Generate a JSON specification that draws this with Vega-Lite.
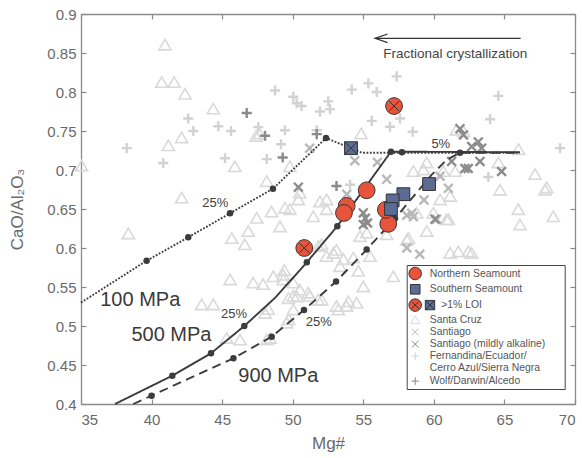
{
  "$schema": "https://vega.github.io/schema/vega-lite/v6.json",
  "width": 494,
  "height": 390,
  "autosize": {"type": "none"},
  "padding": {"left": 81, "top": 14, "right": 7, "bottom": 54},
  "datasets": {
    "bg": [
      {"Mg":35.05,"CaO":0.705,"group":"Santa Cruz"},{"Mg":40.95,"CaO":0.860,"group":"Santa Cruz"},{"Mg":40.72,"CaO":0.812,"group":"Santa Cruz"},{"Mg":41.6,"CaO":0.812,"group":"Santa Cruz"},{"Mg":42.37,"CaO":0.797,"group":"Santa Cruz"},{"Mg":41.19,"CaO":0.731,"group":"Santa Cruz"},{"Mg":42.13,"CaO":0.741,"group":"Santa Cruz"},{"Mg":44.37,"CaO":0.778,"group":"Santa Cruz"},{"Mg":45.9,"CaO":0.704,"group":"Santa Cruz"},{"Mg":47.4,"CaO":0.743,"group":"Santa Cruz"},{"Mg":47.65,"CaO":0.746,"group":"Santa Cruz"},{"Mg":48.16,"CaO":0.685,"group":"Santa Cruz"},{"Mg":42.13,"CaO":0.664,"group":"Santa Cruz"},{"Mg":38.35,"CaO":0.618,"group":"Santa Cruz"},{"Mg":45.68,"CaO":0.612,"group":"Santa Cruz"},{"Mg":45.56,"CaO":0.559,"group":"Santa Cruz"},{"Mg":43.55,"CaO":0.527,"group":"Santa Cruz"},{"Mg":44.37,"CaO":0.527,"group":"Santa Cruz"},{"Mg":47.2,"CaO":0.555,"group":"Santa Cruz"},{"Mg":47.9,"CaO":0.553,"group":"Santa Cruz"},{"Mg":47.45,"CaO":0.638,"group":"Santa Cruz"},{"Mg":48.5,"CaO":0.646,"group":"Santa Cruz"},{"Mg":49.45,"CaO":0.651,"group":"Santa Cruz"},{"Mg":49.1,"CaO":0.627,"group":"Santa Cruz"},{"Mg":49.8,"CaO":0.704,"group":"Santa Cruz"},{"Mg":48.27,"CaO":0.521,"group":"Santa Cruz"},{"Mg":45.32,"CaO":0.484,"group":"Santa Cruz"},{"Mg":46.27,"CaO":0.482,"group":"Santa Cruz"},{"Mg":48.16,"CaO":0.482,"group":"Santa Cruz"},{"Mg":49.7,"CaO":0.508,"group":"Santa Cruz"},{"Mg":49.33,"CaO":0.559,"group":"Santa Cruz"},{"Mg":49.33,"CaO":0.565,"group":"Santa Cruz"},{"Mg":49.4,"CaO":0.571,"group":"Santa Cruz"},{"Mg":50.04,"CaO":0.538,"group":"Santa Cruz"},{"Mg":48.63,"CaO":0.563,"group":"Santa Cruz"},{"Mg":50.04,"CaO":0.555,"group":"Santa Cruz"},{"Mg":51.46,"CaO":0.640,"group":"Santa Cruz"},{"Mg":51.93,"CaO":0.659,"group":"Santa Cruz"},{"Mg":52.4,"CaO":0.649,"group":"Santa Cruz"},{"Mg":50.4,"CaO":0.6615,"group":"Santa Cruz"},{"Mg":46.85,"CaO":0.621,"group":"Santa Cruz"},{"Mg":46.6,"CaO":0.604,"group":"Santa Cruz"},{"Mg":52.05,"CaO":0.604,"group":"Santa Cruz"},{"Mg":52.4,"CaO":0.589,"group":"Santa Cruz"},{"Mg":53.1,"CaO":0.597,"group":"Santa Cruz"},{"Mg":53.35,"CaO":0.576,"group":"Santa Cruz"},{"Mg":54.3,"CaO":0.587,"group":"Santa Cruz"},{"Mg":54.65,"CaO":0.570,"group":"Santa Cruz"},{"Mg":55.0,"CaO":0.550,"group":"Santa Cruz"},{"Mg":54.77,"CaO":0.6145,"group":"Santa Cruz"},{"Mg":55.24,"CaO":0.619,"group":"Santa Cruz"},{"Mg":55.48,"CaO":0.589,"group":"Santa Cruz"},{"Mg":57.13,"CaO":0.563,"group":"Santa Cruz"},{"Mg":58.08,"CaO":0.610,"group":"Santa Cruz"},{"Mg":56.66,"CaO":0.617,"group":"Santa Cruz"},{"Mg":51.82,"CaO":0.602,"group":"Santa Cruz"},{"Mg":52.88,"CaO":0.593,"group":"Santa Cruz"},{"Mg":53.6,"CaO":0.585,"group":"Santa Cruz"},{"Mg":54.53,"CaO":0.529,"group":"Santa Cruz"},{"Mg":53.23,"CaO":0.5205,"group":"Santa Cruz"},{"Mg":53.82,"CaO":0.525,"group":"Santa Cruz"},{"Mg":52.05,"CaO":0.533,"group":"Santa Cruz"},{"Mg":50.5,"CaO":0.546,"group":"Santa Cruz"},{"Mg":51.2,"CaO":0.538,"group":"Santa Cruz"},{"Mg":50.04,"CaO":0.5205,"group":"Santa Cruz"},{"Mg":49.57,"CaO":0.5035,"group":"Santa Cruz"},{"Mg":59.5,"CaO":0.621,"group":"Santa Cruz"},{"Mg":61.15,"CaO":0.593,"group":"Santa Cruz"},{"Mg":62.68,"CaO":0.593,"group":"Santa Cruz"},{"Mg":58.78,"CaO":0.6445,"group":"Santa Cruz"},{"Mg":61.03,"CaO":0.636,"group":"Santa Cruz"},{"Mg":65.98,"CaO":0.649,"group":"Santa Cruz"},{"Mg":66.1,"CaO":0.6295,"group":"Santa Cruz"},{"Mg":68.46,"CaO":0.640,"group":"Santa Cruz"},{"Mg":67.17,"CaO":0.694,"group":"Santa Cruz"},{"Mg":67.87,"CaO":0.674,"group":"Santa Cruz"},{"Mg":64.57,"CaO":0.709,"group":"Santa Cruz"},{"Mg":64.69,"CaO":0.674,"group":"Santa Cruz"},{"Mg":58.55,"CaO":0.698,"group":"Santa Cruz"},{"Mg":59.49,"CaO":0.709,"group":"Santa Cruz"},{"Mg":60.67,"CaO":0.698,"group":"Santa Cruz"},{"Mg":61.5,"CaO":0.698,"group":"Santa Cruz"},{"Mg":61.15,"CaO":0.666,"group":"Santa Cruz"},{"Mg":60.44,"CaO":0.6615,"group":"Santa Cruz"},{"Mg":59.96,"CaO":0.6445,"group":"Santa Cruz"},{"Mg":60.9,"CaO":0.636,"group":"Santa Cruz"},{"Mg":58.2,"CaO":0.612,"group":"Santa Cruz"},{"Mg":61.73,"CaO":0.595,"group":"Santa Cruz"},{"Mg":62.44,"CaO":0.595,"group":"Santa Cruz"},{"Mg":66.0,"CaO":0.726,"group":"Santa Cruz"},{"Mg":61.6,"CaO":0.751,"group":"Santa Cruz"},{"Mg":62.1,"CaO":0.749,"group":"Santa Cruz"},{"Mg":59.26,"CaO":0.700,"group":"Santa Cruz"},{"Mg":68.0,"CaO":0.677,"group":"Santa Cruz"},{"Mg":54.85,"CaO":0.746,"group":"Santa Cruz"},{"Mg":50.5,"CaO":0.670,"group":"Santa Cruz"},{"Mg":52.4,"CaO":0.6615,"group":"Santa Cruz"},{"Mg":49.8,"CaO":0.649,"group":"Santa Cruz"},{"Mg":49.7,"CaO":0.535,"group":"Santa Cruz"},{"Mg":50.3,"CaO":0.537,"group":"Santa Cruz"},{"Mg":51.8,"CaO":0.533,"group":"Santa Cruz"},{"Mg":53.1,"CaO":0.525,"group":"Santa Cruz"},{"Mg":53.94,"CaO":0.531,"group":"Santa Cruz"},{"Mg":51.1,"CaO":0.542,"group":"Santa Cruz"},{"Mg":48.4,"CaO":0.484,"group":"Santa Cruz"},{"Mg":48.04,"CaO":0.516,"group":"Santa Cruz"},
      {"Mg":51.2,"CaO":0.728,"group":"Santiago"},{"Mg":54.4,"CaO":0.712,"group":"Santiago"},{"Mg":56.0,"CaO":0.710,"group":"Santiago"},{"Mg":56.66,"CaO":0.688,"group":"Santiago"},{"Mg":53.83,"CaO":0.669,"group":"Santiago"},{"Mg":58.08,"CaO":0.642,"group":"Santiago"},{"Mg":58.55,"CaO":0.640,"group":"Santiago"},{"Mg":58.08,"CaO":0.600,"group":"Santiago"},{"Mg":59.0,"CaO":0.592,"group":"Santiago"},{"Mg":59.3,"CaO":0.6615,"group":"Santiago"},{"Mg":60.44,"CaO":0.692,"group":"Santiago"},{"Mg":61.03,"CaO":0.6765,"group":"Santiago"},{"Mg":58.43,"CaO":0.6445,"group":"Santiago"},{"Mg":60.2,"CaO":0.637,"group":"Santiago"},
      {"Mg":50.4,"CaO":0.678,"group":"Santiago (mildly alkaline)"},{"Mg":55.0,"CaO":0.645,"group":"Santiago (mildly alkaline)"},{"Mg":55.3,"CaO":0.632,"group":"Santiago (mildly alkaline)"},{"Mg":55.0,"CaO":0.630,"group":"Santiago (mildly alkaline)"},{"Mg":55.15,"CaO":0.638,"group":"Santiago (mildly alkaline)"},{"Mg":61.85,"CaO":0.753,"group":"Santiago (mildly alkaline)"},{"Mg":62.1,"CaO":0.745,"group":"Santiago (mildly alkaline)"},{"Mg":63.15,"CaO":0.736,"group":"Santiago (mildly alkaline)"},{"Mg":63.39,"CaO":0.728,"group":"Santiago (mildly alkaline)"},{"Mg":62.68,"CaO":0.730,"group":"Santiago (mildly alkaline)"},{"Mg":61.26,"CaO":0.711,"group":"Santiago (mildly alkaline)"},{"Mg":63.27,"CaO":0.711,"group":"Santiago (mildly alkaline)"},{"Mg":62.44,"CaO":0.702,"group":"Santiago (mildly alkaline)"},{"Mg":62.2,"CaO":0.702,"group":"Santiago (mildly alkaline)"},{"Mg":64.8,"CaO":0.698,"group":"Santiago (mildly alkaline)"},{"Mg":60.08,"CaO":0.637,"group":"Santiago (mildly alkaline)"},
      {"Mg":38.24,"CaO":0.728,"group":"Fernandina/Ecuador/Cerro Azul/Sierra Negra"},{"Mg":40.83,"CaO":0.709,"group":"Fernandina/Ecuador/Cerro Azul/Sierra Negra"},{"Mg":42.6,"CaO":0.766,"group":"Fernandina/Ecuador/Cerro Azul/Sierra Negra"},{"Mg":42.96,"CaO":0.750,"group":"Fernandina/Ecuador/Cerro Azul/Sierra Negra"},{"Mg":44.73,"CaO":0.756,"group":"Fernandina/Ecuador/Cerro Azul/Sierra Negra"},{"Mg":45.63,"CaO":0.750,"group":"Fernandina/Ecuador/Cerro Azul/Sierra Negra"},{"Mg":45.2,"CaO":0.715,"group":"Fernandina/Ecuador/Cerro Azul/Sierra Negra"},{"Mg":47.56,"CaO":0.755,"group":"Fernandina/Ecuador/Cerro Azul/Sierra Negra"},{"Mg":48.75,"CaO":0.802,"group":"Fernandina/Ecuador/Cerro Azul/Sierra Negra"},{"Mg":49.45,"CaO":0.751,"group":"Fernandina/Ecuador/Cerro Azul/Sierra Negra"},{"Mg":49.17,"CaO":0.733,"group":"Fernandina/Ecuador/Cerro Azul/Sierra Negra"},{"Mg":48.16,"CaO":0.714,"group":"Fernandina/Ecuador/Cerro Azul/Sierra Negra"},{"Mg":50.04,"CaO":0.794,"group":"Fernandina/Ecuador/Cerro Azul/Sierra Negra"},{"Mg":50.28,"CaO":0.7855,"group":"Fernandina/Ecuador/Cerro Azul/Sierra Negra"},{"Mg":50.63,"CaO":0.782,"group":"Fernandina/Ecuador/Cerro Azul/Sierra Negra"},{"Mg":51.93,"CaO":0.775,"group":"Fernandina/Ecuador/Cerro Azul/Sierra Negra"},{"Mg":52.52,"CaO":0.788,"group":"Fernandina/Ecuador/Cerro Azul/Sierra Negra"},{"Mg":52.64,"CaO":0.778,"group":"Fernandina/Ecuador/Cerro Azul/Sierra Negra"},{"Mg":54.18,"CaO":0.803,"group":"Fernandina/Ecuador/Cerro Azul/Sierra Negra"},{"Mg":55.36,"CaO":0.811,"group":"Fernandina/Ecuador/Cerro Azul/Sierra Negra"},{"Mg":55.95,"CaO":0.800,"group":"Fernandina/Ecuador/Cerro Azul/Sierra Negra"},{"Mg":57.37,"CaO":0.820,"group":"Fernandina/Ecuador/Cerro Azul/Sierra Negra"},{"Mg":55.6,"CaO":0.763,"group":"Fernandina/Ecuador/Cerro Azul/Sierra Negra"},{"Mg":56.89,"CaO":0.7555,"group":"Fernandina/Ecuador/Cerro Azul/Sierra Negra"},{"Mg":57.6,"CaO":0.766,"group":"Fernandina/Ecuador/Cerro Azul/Sierra Negra"},{"Mg":51.7,"CaO":0.751,"group":"Fernandina/Ecuador/Cerro Azul/Sierra Negra"},{"Mg":64.57,"CaO":0.795,"group":"Fernandina/Ecuador/Cerro Azul/Sierra Negra"},{"Mg":63.98,"CaO":0.765,"group":"Fernandina/Ecuador/Cerro Azul/Sierra Negra"},{"Mg":58.5,"CaO":0.749,"group":"Fernandina/Ecuador/Cerro Azul/Sierra Negra"},{"Mg":68.94,"CaO":0.728,"group":"Fernandina/Ecuador/Cerro Azul/Sierra Negra"},{"Mg":63.86,"CaO":0.691,"group":"Fernandina/Ecuador/Cerro Azul/Sierra Negra"},{"Mg":54.06,"CaO":0.681,"group":"Fernandina/Ecuador/Cerro Azul/Sierra Negra"},
      {"Mg":46.74,"CaO":0.773,"group":"Wolf/Darwin/Alcedo"},{"Mg":48.04,"CaO":0.744,"group":"Wolf/Darwin/Alcedo"},{"Mg":49.29,"CaO":0.716,"group":"Wolf/Darwin/Alcedo"},{"Mg":51.7,"CaO":0.746,"group":"Wolf/Darwin/Alcedo"},{"Mg":53.1,"CaO":0.6795,"group":"Wolf/Darwin/Alcedo"}
    ],
    "seamounts": [
      {"Mg":55.24,"CaO":0.674,"group":"Northern Seamount"},{"Mg":53.82,"CaO":0.654,"group":"Northern Seamount"},{"Mg":53.63,"CaO":0.645,"group":"Northern Seamount"},{"Mg":56.77,"CaO":0.631,"group":"Northern Seamount"},{"Mg":56.6,"CaO":0.649,"group":"Northern Seamount"},
      {"Mg":57.84,"CaO":0.669,"group":"Southern Seamount"},{"Mg":57.08,"CaO":0.661,"group":"Southern Seamount"},{"Mg":56.96,"CaO":0.650,"group":"Southern Seamount"},{"Mg":59.66,"CaO":0.682,"group":"Southern Seamount"}
    ],
    "loiNorth": [{"Mg":57.18,"CaO":0.782},{"Mg":50.82,"CaO":0.600}],
    "loiSouth": [{"Mg":54.13,"CaO":0.728}],
    "curves": [
      {"P":"100 MPa","i":0,"Mg":35.0,"CaO":0.530},{"P":"100 MPa","i":1,"Mg":39.65,"CaO":0.5837},{"P":"100 MPa","i":2,"Mg":42.6,"CaO":0.6137},{"P":"100 MPa","i":3,"Mg":45.56,"CaO":0.6445},{"P":"100 MPa","i":4,"Mg":48.6,"CaO":0.676},{"P":"100 MPa","i":5,"Mg":52.36,"CaO":0.741},{"P":"100 MPa","i":6,"Mg":54.9,"CaO":0.7222},{"P":"100 MPa","i":7,"Mg":66.1,"CaO":0.7222},
      {"P":"500 MPa","i":0,"Mg":37.41,"CaO":0.400},{"P":"500 MPa","i":1,"Mg":41.47,"CaO":0.4363},{"P":"500 MPa","i":2,"Mg":44.21,"CaO":0.465},{"P":"500 MPa","i":3,"Mg":46.57,"CaO":0.500},{"P":"500 MPa","i":4,"Mg":48.8,"CaO":0.537},{"P":"500 MPa","i":5,"Mg":51.0,"CaO":0.5817},{"P":"500 MPa","i":6,"Mg":53.16,"CaO":0.628},{"P":"500 MPa","i":7,"Mg":56.96,"CaO":0.7235},{"P":"500 MPa","i":8,"Mg":66.1,"CaO":0.7228},
      {"P":"900 MPa","i":0,"Mg":38.7,"CaO":0.400},{"P":"900 MPa","i":1,"Mg":40.0,"CaO":0.4107},{"P":"900 MPa","i":2,"Mg":45.8,"CaO":0.4586},{"P":"900 MPa","i":3,"Mg":48.51,"CaO":0.4863},{"P":"900 MPa","i":4,"Mg":50.8,"CaO":0.5205},{"P":"900 MPa","i":5,"Mg":53.07,"CaO":0.557},{"P":"900 MPa","i":6,"Mg":55.24,"CaO":0.598},{"P":"900 MPa","i":7,"Mg":57.25,"CaO":0.638},{"P":"900 MPa","i":8,"Mg":59.85,"CaO":0.694},{"P":"900 MPa","i":9,"Mg":60.9,"CaO":0.713},{"P":"900 MPa","i":10,"Mg":61.85,"CaO":0.7222},{"P":"900 MPa","i":11,"Mg":66.1,"CaO":0.7222}
    ],
    "dots": [
      {"Mg":39.65,"CaO":0.5837},{"Mg":42.6,"CaO":0.6137},{"Mg":45.56,"CaO":0.6445},{"Mg":48.6,"CaO":0.676},{"Mg":52.36,"CaO":0.741},
      {"Mg":41.47,"CaO":0.4363},{"Mg":44.21,"CaO":0.465},{"Mg":46.57,"CaO":0.500},{"Mg":51.0,"CaO":0.5817},{"Mg":53.16,"CaO":0.628},{"Mg":56.96,"CaO":0.7235},{"Mg":57.74,"CaO":0.7228},
      {"Mg":40.0,"CaO":0.4107},{"Mg":45.8,"CaO":0.4586},{"Mg":48.51,"CaO":0.4863},{"Mg":50.8,"CaO":0.5205},{"Mg":53.07,"CaO":0.557},{"Mg":55.24,"CaO":0.598},{"Mg":57.25,"CaO":0.638},{"Mg":61.85,"CaO":0.7222}
    ],
    "smallText": [{"Mg":44.52,"CaO":0.6573,"label":"25%"},{"Mg":45.84,"CaO":0.5158,"label":"25%"},{"Mg":51.85,"CaO":0.5055,"label":"25%"},{"Mg":60.49,"CaO":0.7333,"label":"5%"}],
    "bigText": [{"Mg":39.2,"CaO":0.5333,"label":"100 MPa"},{"Mg":41.41,"CaO":0.4889,"label":"500 MPa"},{"Mg":48.98,"CaO":0.4361,"label":"900 MPa"}],
    "note": [{"Mg":61.52,"CaO":0.849,"label":"Fractional crystallization"}],
    "arrow": [{"Mg":55.9,"CaO":0.8688},{"Mg":66.15,"CaO":0.8688}],
    "arrowTip": [{"Mg":55.83,"CaO":0.8688}]
  },
  "layer": [
    {
      "data": {"name": "bg"},
      "mark": {"type": "point", "size": 256, "opacity": 1},
      "encoding": {
        "x": {"field": "Mg", "type": "quantitative", "scale": {"domain": [35, 70], "nice": false, "zero": false},
              "axis": {"orient": "bottom", "title": "Mg#", "values": [35,40,45,50,55,60,65,70], "tickSize": -5, "labelPadding": 13, "titlePadding": 8}},
        "y": {"field": "CaO", "type": "quantitative", "scale": {"domain": [0.4, 0.9], "nice": false, "zero": false},
              "axis": {"orient": "left", "title": "CaO/Al\u2082O\u2083", "values": [0.4,0.45,0.5,0.55,0.6,0.65,0.7,0.75,0.8,0.85,0.9], "format": ".2~f", "tickSize": -5, "labelPadding": 10, "titlePadding": 20}},
        "shape": {"field": "group", "type": "nominal",
          "scale": {"domain": ["Northern Seamount","Southern Seamount",">1% LOI","Santa Cruz","Santiago","Santiago (mildly alkaline)","Fernandina/Ecuador/Cerro Azul/Sierra Negra","Wolf/Darwin/Alcedo"],
                    "range": ["M1.04,0A1.04,1.04,0,1,1,-1.04,0A1.04,1.04,0,1,1,1.04,0Z","M-0.8,-0.8H0.8V0.8H-0.8Z","M1.04,0A1.04,1.04,0,1,1,-1.04,0A1.04,1.04,0,1,1,1.04,0Z M-0.62,-0.62L0.62,0.62M-0.62,0.62L0.62,-0.62 M1.69,-0.78H3.25V0.78H1.69Z M1.69,-0.78L3.25,0.78M1.69,0.78L3.25,-0.78","M0,-0.72L0.76,0.58L-0.76,0.58Z","M-0.55,-0.55L0.55,0.55M-0.55,0.55L0.55,-0.55","M-0.55,-0.55L0.55,0.55M-0.55,0.55L0.55,-0.55","M-0.63,0H0.63M0,-0.63V0.63","M-0.63,0H0.63M0,-0.63V0.63"]},
          "legend": {"title": null, "labelExpr": "datum.label == 'Fernandina/Ecuador/Cerro Azul/Sierra Negra' ? ['Fernandina/Ecuador/', 'Cerro Azul/Sierra Negra'] : datum.label == '>1% LOI' ? '\u200b\u00a0\u00a0\u00a0\u00a0>1% LOI' : datum.label == 'Santiago (mildly alkaline)' ? 'Santiago (mildly alkaline)\u00a0\u00a0\u00a0\u00a0\u00a0\u00a0\u200b' : datum.label",
                     "encode": {"symbols": {"update": {"strokeWidth": {"signal": "datum.value == 'Santa Cruz' ? 1.5 : (datum.value == 'Northern Seamount' || datum.value == 'Southern Seamount' || datum.value == '>1% LOI') ? 1 : 2.3"}}}, "labels": {"update": {"lineHeight": {"value": 11.7}}}}}},
        "fill": {"field": "group", "type": "nominal",
          "scale": {"domain": ["Northern Seamount","Southern Seamount",">1% LOI","Santa Cruz","Santiago","Santiago (mildly alkaline)","Fernandina/Ecuador/Cerro Azul/Sierra Negra","Wolf/Darwin/Alcedo"],
                    "range": ["#E8533C","#5A6B94",{"expr": "{gradient: 'linear', x1: 0, y1: 0, x2: 1, y2: 0, stops: [{offset: 0, color: '#E8533C'}, {offset: 0.56, color: '#E8533C'}, {offset: 0.56, color: '#5A6B94'}, {offset: 1, color: '#5A6B94'}]}"},"transparent","transparent","transparent","transparent","transparent"]},
          "legend": {"title": null, "labelExpr": "datum.label == 'Fernandina/Ecuador/Cerro Azul/Sierra Negra' ? ['Fernandina/Ecuador/', 'Cerro Azul/Sierra Negra'] : datum.label == '>1% LOI' ? '\u200b\u00a0\u00a0\u00a0\u00a0>1% LOI' : datum.label == 'Santiago (mildly alkaline)' ? 'Santiago (mildly alkaline)\u00a0\u00a0\u00a0\u00a0\u00a0\u00a0\u200b' : datum.label",
                     "encode": {"symbols": {"update": {"strokeWidth": {"signal": "datum.value == 'Santa Cruz' ? 1.5 : (datum.value == 'Northern Seamount' || datum.value == 'Southern Seamount' || datum.value == '>1% LOI') ? 1 : 2.3"}}}, "labels": {"update": {"lineHeight": {"value": 11.7}}}}}},
        "stroke": {"field": "group", "type": "nominal",
          "scale": {"domain": ["Northern Seamount","Southern Seamount",">1% LOI","Santa Cruz","Santiago","Santiago (mildly alkaline)","Fernandina/Ecuador/Cerro Azul/Sierra Negra","Wolf/Darwin/Alcedo"],
                    "range": ["#333333","#333333","#333333","#D9D9D9","#B8B8B8","#8C8C8C","#D2D2D2","#8A8A8A"]},
          "legend": {"title": null, "labelExpr": "datum.label == 'Fernandina/Ecuador/Cerro Azul/Sierra Negra' ? ['Fernandina/Ecuador/', 'Cerro Azul/Sierra Negra'] : datum.label == '>1% LOI' ? '\u200b\u00a0\u00a0\u00a0\u00a0>1% LOI' : datum.label == 'Santiago (mildly alkaline)' ? 'Santiago (mildly alkaline)\u00a0\u00a0\u00a0\u00a0\u00a0\u00a0\u200b' : datum.label",
                     "encode": {"symbols": {"update": {"strokeWidth": {"signal": "datum.value == 'Santa Cruz' ? 1.5 : (datum.value == 'Northern Seamount' || datum.value == 'Southern Seamount' || datum.value == '>1% LOI') ? 1 : 2.3"}}}, "labels": {"update": {"lineHeight": {"value": 11.7}}}}}},
        "strokeWidth": {"condition": {"test": "datum.group == 'Santa Cruz'", "value": 1.6}, "value": 2.4}
      }
    },
    {
      "data": {"name": "curves"},
      "mark": {"type": "line", "color": "#3c3c3c", "strokeWidth": 1.9},
      "encoding": {
        "x": {"field": "Mg", "type": "quantitative", "scale": {"domain": [35, 70], "nice": false, "zero": false},
              "axis": {"orient": "top", "title": null, "labels": false, "values": [35,40,45,50,55,60,65,70], "tickSize": -5}},
        "y": {"field": "CaO", "type": "quantitative", "scale": {"domain": [0.4, 0.9], "nice": false, "zero": false},
              "axis": {"orient": "right", "title": null, "labels": false, "values": [0.4,0.45,0.5,0.55,0.6,0.65,0.7,0.75,0.8,0.85,0.9], "tickSize": -5}},
        "detail": {"field": "P", "type": "nominal"},
        "strokeDash": {"field": "P", "type": "nominal", "scale": {"domain": ["100 MPa","500 MPa","900 MPa"], "range": [[1.8,1.6],[1,0],[9,5.5]]}, "legend": null},
        "order": {"field": "i", "type": "quantitative"}
      }
    },
    {
      "data": {"name": "dots"},
      "mark": {"type": "point", "shape": "circle", "filled": true, "size": 42, "color": "#3c3c3c", "opacity": 1},
      "encoding": {
        "x": {"field": "Mg", "type": "quantitative", "scale": {"domain": [35, 70], "nice": false, "zero": false}, "axis": null},
        "y": {"field": "CaO", "type": "quantitative", "scale": {"domain": [0.4, 0.9], "nice": false, "zero": false}, "axis": null}
      }
    },
    {
      "data": {"name": "seamounts"},
      "mark": {"type": "point", "size": 256, "opacity": 1, "strokeWidth": 1},
      "encoding": {
        "x": {"field": "Mg", "type": "quantitative", "scale": {"domain": [35, 70], "nice": false, "zero": false}, "axis": null},
        "y": {"field": "CaO", "type": "quantitative", "scale": {"domain": [0.4, 0.9], "nice": false, "zero": false}, "axis": null},
        "shape": {"field": "group", "type": "nominal",
          "scale": {"domain": ["Northern Seamount","Southern Seamount",">1% LOI","Santa Cruz","Santiago","Santiago (mildly alkaline)","Fernandina/Ecuador/Cerro Azul/Sierra Negra","Wolf/Darwin/Alcedo"],
                    "range": ["M1.04,0A1.04,1.04,0,1,1,-1.04,0A1.04,1.04,0,1,1,1.04,0Z","M-0.8,-0.8H0.8V0.8H-0.8Z","M1.04,0A1.04,1.04,0,1,1,-1.04,0A1.04,1.04,0,1,1,1.04,0Z M-0.62,-0.62L0.62,0.62M-0.62,0.62L0.62,-0.62 M1.69,-0.78H3.25V0.78H1.69Z M1.69,-0.78L3.25,0.78M1.69,0.78L3.25,-0.78","M0,-0.72L0.76,0.58L-0.76,0.58Z","M-0.55,-0.55L0.55,0.55M-0.55,0.55L0.55,-0.55","M-0.55,-0.55L0.55,0.55M-0.55,0.55L0.55,-0.55","M-0.63,0H0.63M0,-0.63V0.63","M-0.63,0H0.63M0,-0.63V0.63"]},
          "legend": {"title": null, "labelExpr": "datum.label == 'Fernandina/Ecuador/Cerro Azul/Sierra Negra' ? ['Fernandina/Ecuador/', 'Cerro Azul/Sierra Negra'] : datum.label == '>1% LOI' ? '\u200b\u00a0\u00a0\u00a0\u00a0>1% LOI' : datum.label == 'Santiago (mildly alkaline)' ? 'Santiago (mildly alkaline)\u00a0\u00a0\u00a0\u00a0\u00a0\u00a0\u200b' : datum.label",
                     "encode": {"symbols": {"update": {"strokeWidth": {"signal": "datum.value == 'Santa Cruz' ? 1.5 : (datum.value == 'Northern Seamount' || datum.value == 'Southern Seamount' || datum.value == '>1% LOI') ? 1 : 2.3"}}}, "labels": {"update": {"lineHeight": {"value": 11.7}}}}}},
        "fill": {"field": "group", "type": "nominal",
          "scale": {"domain": ["Northern Seamount","Southern Seamount",">1% LOI","Santa Cruz","Santiago","Santiago (mildly alkaline)","Fernandina/Ecuador/Cerro Azul/Sierra Negra","Wolf/Darwin/Alcedo"],
                    "range": ["#E8533C","#5A6B94",{"expr": "{gradient: 'linear', x1: 0, y1: 0, x2: 1, y2: 0, stops: [{offset: 0, color: '#E8533C'}, {offset: 0.56, color: '#E8533C'}, {offset: 0.56, color: '#5A6B94'}, {offset: 1, color: '#5A6B94'}]}"},"transparent","transparent","transparent","transparent","transparent"]},
          "legend": {"title": null, "labelExpr": "datum.label == 'Fernandina/Ecuador/Cerro Azul/Sierra Negra' ? ['Fernandina/Ecuador/', 'Cerro Azul/Sierra Negra'] : datum.label == '>1% LOI' ? '\u200b\u00a0\u00a0\u00a0\u00a0>1% LOI' : datum.label == 'Santiago (mildly alkaline)' ? 'Santiago (mildly alkaline)\u00a0\u00a0\u00a0\u00a0\u00a0\u00a0\u200b' : datum.label",
                     "encode": {"symbols": {"update": {"strokeWidth": {"signal": "datum.value == 'Santa Cruz' ? 1.5 : (datum.value == 'Northern Seamount' || datum.value == 'Southern Seamount' || datum.value == '>1% LOI') ? 1 : 2.3"}}}, "labels": {"update": {"lineHeight": {"value": 11.7}}}}}},
        "stroke": {"field": "group", "type": "nominal",
          "scale": {"domain": ["Northern Seamount","Southern Seamount",">1% LOI","Santa Cruz","Santiago","Santiago (mildly alkaline)","Fernandina/Ecuador/Cerro Azul/Sierra Negra","Wolf/Darwin/Alcedo"],
                    "range": ["#333333","#333333","#333333","#D9D9D9","#B8B8B8","#8C8C8C","#D2D2D2","#8A8A8A"]},
          "legend": {"title": null, "labelExpr": "datum.label == 'Fernandina/Ecuador/Cerro Azul/Sierra Negra' ? ['Fernandina/Ecuador/', 'Cerro Azul/Sierra Negra'] : datum.label == '>1% LOI' ? '\u200b\u00a0\u00a0\u00a0\u00a0>1% LOI' : datum.label == 'Santiago (mildly alkaline)' ? 'Santiago (mildly alkaline)\u00a0\u00a0\u00a0\u00a0\u00a0\u00a0\u200b' : datum.label",
                     "encode": {"symbols": {"update": {"strokeWidth": {"signal": "datum.value == 'Santa Cruz' ? 1.5 : (datum.value == 'Northern Seamount' || datum.value == 'Southern Seamount' || datum.value == '>1% LOI') ? 1 : 2.3"}}}, "labels": {"update": {"lineHeight": {"value": 11.7}}}}}}
      }
    },
    {
      "data": {"name": "loiNorth"},
      "mark": {"type": "point", "size": 256, "opacity": 1, "filled": true, "fill": "#E8533C", "stroke": "#333333", "strokeWidth": 1,
               "shape": "M1.04,0A1.04,1.04,0,1,1,-1.04,0A1.04,1.04,0,1,1,1.04,0Z M-0.62,-0.62L0.62,0.62M-0.62,0.62L0.62,-0.62"},
      "encoding": {
        "x": {"field": "Mg", "type": "quantitative", "scale": {"domain": [35, 70], "nice": false, "zero": false}, "axis": null},
        "y": {"field": "CaO", "type": "quantitative", "scale": {"domain": [0.4, 0.9], "nice": false, "zero": false}, "axis": null}
      }
    },
    {
      "data": {"name": "loiSouth"},
      "mark": {"type": "point", "size": 256, "opacity": 1, "filled": true, "fill": "#5A6B94", "stroke": "#333333", "strokeWidth": 1,
               "shape": "M-0.8,-0.8H0.8V0.8H-0.8Z M-0.8,-0.8L0.8,0.8M-0.8,0.8L0.8,-0.8"},
      "encoding": {
        "x": {"field": "Mg", "type": "quantitative", "scale": {"domain": [35, 70], "nice": false, "zero": false}, "axis": null},
        "y": {"field": "CaO", "type": "quantitative", "scale": {"domain": [0.4, 0.9], "nice": false, "zero": false}, "axis": null}
      }
    },
    {
      "data": {"name": "smallText"},
      "mark": {"type": "text", "fontSize": 13, "color": "#404040", "align": "center", "baseline": "middle"},
      "encoding": {
        "x": {"field": "Mg", "type": "quantitative", "scale": {"domain": [35, 70], "nice": false, "zero": false}, "axis": null},
        "y": {"field": "CaO", "type": "quantitative", "scale": {"domain": [0.4, 0.9], "nice": false, "zero": false}, "axis": null},
        "text": {"field": "label"}
      }
    },
    {
      "data": {"name": "bigText"},
      "mark": {"type": "text", "fontSize": 20, "color": "#3a3a3a", "align": "center", "baseline": "middle"},
      "encoding": {
        "x": {"field": "Mg", "type": "quantitative", "scale": {"domain": [35, 70], "nice": false, "zero": false}, "axis": null},
        "y": {"field": "CaO", "type": "quantitative", "scale": {"domain": [0.4, 0.9], "nice": false, "zero": false}, "axis": null},
        "text": {"field": "label"}
      }
    },
    {
      "data": {"name": "note"},
      "mark": {"type": "text", "fontSize": 13.5, "color": "#444444", "align": "center", "baseline": "middle"},
      "encoding": {
        "x": {"field": "Mg", "type": "quantitative", "scale": {"domain": [35, 70], "nice": false, "zero": false}, "axis": null},
        "y": {"field": "CaO", "type": "quantitative", "scale": {"domain": [0.4, 0.9], "nice": false, "zero": false}, "axis": null},
        "text": {"field": "label"}
      }
    },
    {
      "data": {"name": "arrow"},
      "mark": {"type": "line", "color": "#333333", "strokeWidth": 1.2},
      "encoding": {
        "x": {"field": "Mg", "type": "quantitative", "scale": {"domain": [35, 70], "nice": false, "zero": false}, "axis": null},
        "y": {"field": "CaO", "type": "quantitative", "scale": {"domain": [0.4, 0.9], "nice": false, "zero": false}, "axis": null}
      }
    },
    {
      "data": {"name": "arrowTip"},
      "mark": {"type": "point", "size": 196, "opacity": 1, "filled": false, "stroke": "#333333", "strokeWidth": 1.2,
               "shape": "M1.8,-0.62L0,0L1.8,0.62"},
      "encoding": {
        "x": {"field": "Mg", "type": "quantitative", "scale": {"domain": [35, 70], "nice": false, "zero": false}, "axis": null},
        "y": {"field": "CaO", "type": "quantitative", "scale": {"domain": [0.4, 0.9], "nice": false, "zero": false}, "axis": null}
      }
    }
  ],
  "resolve": {"axis": {"x": "independent", "y": "independent"}},
  "config": {
    "font": "Liberation Sans",
    "view": {"stroke": null},
    "axis": {
      "grid": false,
      "domainColor": "#8a8a8a", "domainWidth": 1.3,
      "tickColor": "#8a8a8a", "tickWidth": 1.2,
      "labelColor": "#6a6a6a", "labelFontSize": 15, "labelFont": "Liberation Sans",
      "titleColor": "#6a6a6a", "titleFontSize": 17, "titleFontWeight": "normal", "titleFont": "Liberation Sans"
    },
    "legend": {
      "orient": "none", "legendX": 325.7, "legendY": 251,
      "padding": 2, "strokeColor": "#444444", "fillColor": "#ffffff",
      "labelFont": "Liberation Sans", "labelFontSize": 10.4, "labelColor": "#555555",
      "symbolSize": 144, "symbolStrokeWidth": 1, "rowPadding": -0.2, "labelOffset": 8
    }
  }
}
